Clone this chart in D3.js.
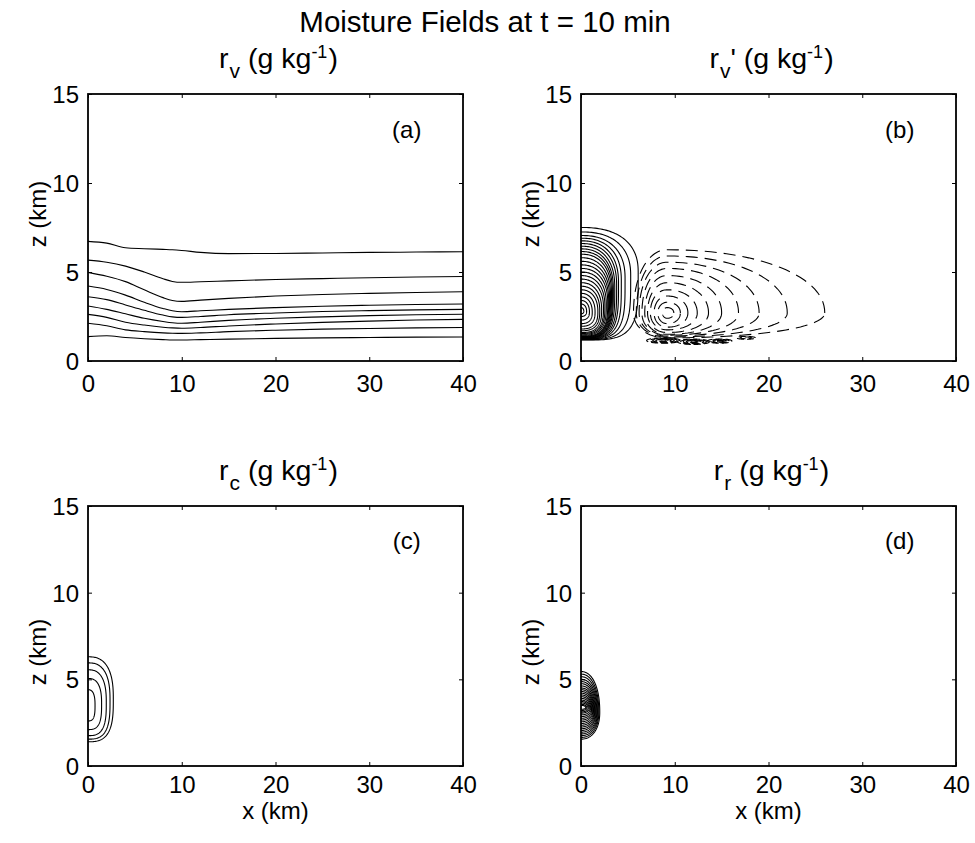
<!DOCTYPE html>
<html><head><meta charset="utf-8">
<script src="https://cdn.jsdelivr.net/npm/d3@7"></script>
<style>
body{margin:0;background:#fff;}
text{font-family:"Liberation Sans",Arial,Helvetica,sans-serif;fill:#000;}
</style></head>
<body><svg id="c" width="975" height="843"></svg>
<script>
// ---------- data ----------
const xTicks = [0, 10, 20, 30, 40];
const zTicks = [0, 5, 10, 15];
const panelLetters = ["(a)", "(b)", "(c)", "(d)"];

// (a) r_v contours: z (km) of each contour line sampled at rvX (km)
const rvX = [0, 2, 4, 6, 8, 9, 10, 12, 15, 20, 25, 30, 35, 40];
const rvLine1 = [6.72, 6.62, 6.36, 6.31, 6.27, 6.25, 6.21, 6.10, 6.03, 6.04, 6.07, 6.10, 6.12, 6.14];
const rvLine2 = [5.67, 5.55, 5.33, 5.00, 4.62, 4.47, 4.42, 4.45, 4.50, 4.58, 4.63, 4.68, 4.72, 4.75];
const rvLine3 = [4.98, 4.76, 4.46, 4.00, 3.56, 3.40, 3.35, 3.42, 3.52, 3.65, 3.74, 3.80, 3.85, 3.89];
const rvLine4 = [4.21, 4.02, 3.70, 3.30, 2.95, 2.82, 2.77, 2.82, 2.90, 3.00, 3.08, 3.13, 3.17, 3.20];
const rvLine5 = [3.61, 3.45, 3.15, 2.85, 2.58, 2.48, 2.45, 2.50, 2.60, 2.70, 2.78, 2.83, 2.87, 2.90];
const rvLine6 = [3.09, 2.90, 2.65, 2.40, 2.22, 2.15, 2.12, 2.18, 2.28, 2.40, 2.48, 2.55, 2.60, 2.63];
const rvLine7 = [2.62, 2.45, 2.18, 2.02, 1.90, 1.86, 1.84, 1.88, 1.97, 2.08, 2.17, 2.24, 2.30, 2.34];
const rvLine8 = [2.12, 1.98, 1.75, 1.65, 1.58, 1.56, 1.55, 1.58, 1.65, 1.73, 1.79, 1.83, 1.86, 1.88];
const rvLine9 = [1.37, 1.42, 1.32, 1.25, 1.20, 1.18, 1.18, 1.20, 1.23, 1.27, 1.30, 1.32, 1.34, 1.35];

// (b) r_v' positive (solid) contours: top z, right-most x, bottom z (km)
const bSolidTop    = [7.50, 7.25, 7.05, 6.90, 6.75, 6.60, 6.45, 6.30, 6.15, 6.00, 5.80, 5.60, 5.40, 5.20, 5.00, 4.80, 4.60, 4.40, 4.20, 4.00, 3.80, 3.60, 3.40, 3.20, 3.00];
const bSolidRight  = [6.10, 5.30, 4.70, 4.30, 4.00, 3.80, 3.60, 3.45, 3.35, 3.25, 3.15, 3.05, 2.95, 2.85, 2.70, 2.55, 2.40, 2.20, 2.00, 1.80, 1.50, 1.20, 0.90, 0.60, 0.30];
const bSolidBottom = [1.18, 1.20, 1.22, 1.24, 1.25, 1.27, 1.28, 1.30, 1.30, 1.32, 1.34, 1.36, 1.38, 1.40, 1.45, 1.50, 1.55, 1.60, 1.70, 1.80, 1.95, 2.10, 2.30, 2.50, 2.65];
// (b) negative (dashed) rings around the minimum
const bDashCenterX = 9.2, bDashCenterZ = 2.7;
const bDashLeft   = [8.70, 8.20, 7.80, 7.40, 7.10, 6.80, 6.50, 6.20, 5.90, 5.60];
const bDashRight  = [9.90, 10.6, 11.4, 12.4, 13.6, 15.0, 16.8, 19.0, 22.0, 26.0];
const bDashTop    = [3.00, 3.30, 3.65, 4.00, 4.40, 4.80, 5.20, 5.55, 5.90, 6.25];
const bDashBottom = [2.40, 2.10, 1.90, 1.75, 1.60, 1.50, 1.45, 1.40, 1.35, 1.30];
// (b) small dashed lenses near the ground
const bLensX = [8.8, 12.0, 14.8, 17.6];
const bLensZ = [1.15, 1.08, 1.12, 1.30];
const bLensHalfW = [1.8, 1.7, 1.3, 1.0];
const bLensHalfH = [0.15, 0.15, 0.12, 0.08];
const bLensCount = [5, 5, 4, 2];

// (c) r_c contours
const cTop    = [6.30, 5.95, 5.55, 5.05, 4.40];
const cRight  = [2.70, 2.35, 1.95, 1.45, 0.75];
const cBottom = [1.40, 1.55, 1.75, 2.10, 2.60];

// (d) r_r contours
const dTop    = [5.45, 5.30, 5.15, 5.00, 4.87, 4.75, 4.62, 4.50, 4.40, 4.30, 4.20, 4.10, 4.00, 3.90, 3.80, 3.72, 3.64, 3.56, 3.50];
const dRight  = [2.00, 1.90, 1.82, 1.75, 1.68, 1.60, 1.53, 1.46, 1.40, 1.33, 1.26, 1.19, 1.12, 1.04, 0.95, 0.85, 0.75, 0.62, 0.50];
const dBottom = [1.55, 1.65, 1.75, 1.85, 1.95, 2.05, 2.15, 2.25, 2.35, 2.45, 2.55, 2.65, 2.75, 2.85, 2.95, 3.05, 3.12, 3.20, 3.27];

// ---------- layout ----------
const svg = d3.select("#c");
const FONT = "Liberation Sans, Arial, Helvetica, sans-serif";
const panels = [
  {l: 88,  r: 463, t: 94,  b: 361, zl: 214},
  {l: 581, r: 956, t: 94,  b: 361, zl: 214},
  {l: 88,  r: 463, t: 506, b: 766, zl: 652},
  {l: 581, r: 956, t: 506, b: 766, zl: 652}
];
const titles = [["r","v"," (g kg","-1",")"],["r","v","' (g kg","-1",")"],["r","c"," (g kg","-1",")"],["r","r"," (g kg","-1",")"]];

svg.append("text").attr("x", 485).attr("y", 32).attr("text-anchor","middle")
  .style("font-size","29.5px").text("Moisture Fields at t = 10 min");

const defs = svg.append("defs");
const scales = panels.map((p, i) => {
  const x = d3.scaleLinear().domain([0, 40]).range([p.l, p.r]);
  const y = d3.scaleLinear().domain([0, 15]).range([p.b, p.t]);
  defs.append("clipPath").attr("id","clip"+i).append("rect")
    .attr("x",p.l).attr("y",p.t).attr("width",p.r-p.l).attr("height",p.b-p.t);
  return {x, y};
});

function drawAxes(i){
  const p = panels[i], {x, y} = scales[i];
  const g = svg.append("g");
  const ax = (gen, tr) => {
    const a = g.append("g").attr("transform", tr).call(gen);
    a.select(".domain").remove();
    a.selectAll("line").attr("stroke","#000").attr("stroke-width",1);
    a.selectAll("text").style("font-size","24px").style("font-family",FONT);
    return a;
  };
  ax(d3.axisBottom(x).tickValues(xTicks).tickSizeInner(-4).tickSizeOuter(0).tickPadding(i < 2 ? 14 : 10).tickFormat(d3.format("d")), `translate(0,${p.b})`);
  ax(d3.axisTop(x).tickValues(xTicks).tickSizeInner(-4).tickSizeOuter(0).tickFormat(""), `translate(0,${p.t})`);
  ax(d3.axisLeft(y).tickValues(zTicks).tickSizeInner(-4).tickSizeOuter(0).tickPadding(9).tickFormat(d3.format("d")), `translate(${p.l},0)`)
    .selectAll("text").attr("dy","0.36em");
  ax(d3.axisRight(y).tickValues(zTicks).tickSizeInner(-4).tickSizeOuter(0).tickFormat(""), `translate(${p.r},0)`);
  g.append("rect").attr("x",p.l).attr("y",p.t).attr("width",p.r-p.l).attr("height",p.b-p.t)
    .attr("fill","none").attr("stroke","#000").attr("stroke-width",1.8);
  // letter
  g.append("text").attr("x", x(34)).attr("y", y(13.0)).attr("text-anchor","middle")
    .attr("dy","0.36em").style("font-size","24px").text(panelLetters[i]);
  // title with sub/superscripts
  const t = titles[i];
  const tt = svg.append("text").attr("x",(p.l+p.r)/2 + 3).attr("y", p.t - 26).attr("text-anchor","middle").style("font-size","28.5px");
  tt.append("tspan").text(t[0]);
  tt.append("tspan").attr("dy", 10).attr("dx", 1).style("font-size","21px").text(t[1]);
  tt.append("tspan").attr("dy", -10).text(t[2]);
  tt.append("tspan").attr("dy", -10).style("font-size","18px").text(t[3]);
  tt.append("tspan").attr("dy", 10).attr("dx", 1).text(t[4]);
  // z label
  svg.append("text").attr("transform",`translate(${p.l-42},${p.zl}) rotate(-90)`)
    .attr("text-anchor","middle").style("font-size","24px").text("z (km)");
  if (i >= 2) {
    svg.append("text").attr("x",(p.l+p.r)/2).attr("y", p.b + 53).attr("text-anchor","middle")
      .style("font-size","24px").text("x (km)");
  }
}

function plotLayer(i){
  return svg.append("g").attr("clip-path",`url(#clip${i})`)
    .attr("fill","none").attr("stroke","#000").attr("stroke-width",1.1);
}

// superellipse half-blob anchored at x = 0 (separate exponents for upper / lower half)
function blobPath(i, R, top, bottom, mid, pTop, pBot){
  const {x, y} = scales[i];
  const pts = [];
  const n = 100;
  for (let k = 0; k <= n; k++){
    const t = Math.PI/2 - Math.PI*k/n;
    const c = Math.cos(t), s = Math.sin(t);
    const pe = s >= 0 ? pTop : pBot;
    const xx = R * Math.pow(Math.abs(c), 2/pe);
    const zz = s >= 0 ? mid + (top-mid)*Math.pow(s, 2/pe) : mid - (mid-bottom)*Math.pow(-s, 2/pe);
    pts.push([x(xx), y(zz)]);
  }
  return d3.line()(pts);
}
// asymmetric closed ring
function ringPath(i, cx, cz, left, right, top, bottom, pExp){
  const {x, y} = scales[i];
  const pts = [];
  const n = 120;
  for (let k = 0; k <= n; k++){
    const t = 2*Math.PI*k/n;
    const c = Math.cos(t), s = Math.sin(t);
    const rx = c >= 0 ? right - cx : cx - left;
    const rz = s >= 0 ? top - cz : cz - bottom;
    const xx = cx + Math.sign(c)*rx*Math.pow(Math.abs(c), 2/pExp);
    const zz = cz + Math.sign(s)*rz*Math.pow(Math.abs(s), 2/pExp);
    pts.push([x(xx), y(zz)]);
  }
  return d3.line()(pts);
}

// ---- panel (a)
{
  const {x, y} = scales[0];
  const L = plotLayer(0);
  const lines = [rvLine1, rvLine2, rvLine3, rvLine4, rvLine5, rvLine6, rvLine7, rvLine8, rvLine9];
  const gen = d3.line().x((d, k) => x(rvX[k])).y(d => y(d)).curve(d3.curveMonotoneX);
  L.selectAll("path").data(lines).join("path").attr("d", gen);
}
// ---- panel (b)
{
  const L = plotLayer(1);
  const N = bSolidTop.length;
  bSolidTop.forEach((tp, k) => {
    const bt = bSolidBottom[k];
    const f = 1 - k/(N-1);
    const mid = bt + (0.4 + 0.2*f)*(tp - bt);
    L.append("path").attr("d", blobPath(1, bSolidRight[k], tp, bt, mid, 2.2 + 0.2*f, 2.3 + 1.7*f));
  });
  const D = L.append("g").attr("stroke-dasharray","12,7");
  bDashLeft.forEach((lf, k) => {
    D.append("path").attr("d", ringPath(1, bDashCenterX, bDashCenterZ, lf, bDashRight[k], bDashTop[k], bDashBottom[k], 2.1));
  });
  bLensX.forEach((cx, k) => {
    for (let j = 0; j < bLensCount[k]; j++){
      const f = 1 - j/(bLensCount[k]+0.5);
      const hw = bLensHalfW[k]*f, hh = bLensHalfH[k]*f;
      D.append("path").attr("stroke-dasharray","7,3")
        .attr("d", ringPath(1, cx, bLensZ[k], cx-hw, cx+hw, bLensZ[k]+hh, bLensZ[k]-hh, 2));
    }
  });
}
// ---- panel (c)
{
  const L = plotLayer(2);
  cTop.forEach((tp, k) => {
    const bt = cBottom[k];
    L.append("path").attr("d", blobPath(2, cRight[k], tp, bt, bt + 0.5*(tp-bt), 2.6, 3.0));
  });
}
// ---- panel (d)
{
  const L = plotLayer(3);
  dTop.forEach((tp, k) => {
    const bt = dBottom[k];
    L.append("path").attr("d", blobPath(3, dRight[k], tp, bt, bt + 0.4*(tp-bt), 2.2, 2.2));
  });
}
[0,1,2,3].forEach(drawAxes);
</script></body></html>
